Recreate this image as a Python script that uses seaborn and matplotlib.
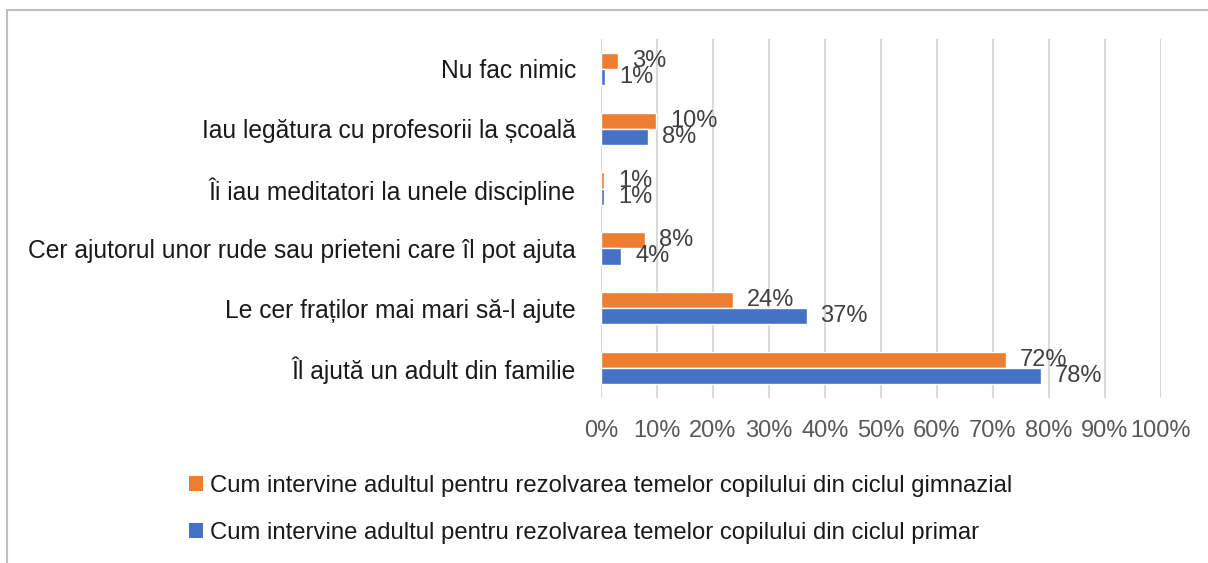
import matplotlib
matplotlib.use("Agg")
import matplotlib.pyplot as plt
import seaborn as sns
import pandas as pd
from matplotlib.patches import Rectangle, Patch

categories = [
    "Nu fac nimic",
    "Iau legătura cu profesorii la școală",
    "Îi iau meditatori la unele discipline",
    "Cer ajutorul unor rude sau prieteni care îl pot ajuta",
    "Le cer fraților mai mari să-l ajute",
    "Îl ajută un adult din familie",
]
series_names = [
    "Cum intervine adultul pentru rezolvarea temelor copilului din ciclul gimnazial",
    "Cum intervine adultul pentru rezolvarea temelor copilului din ciclul primar",
]
gimnazial = [3.0, 9.8, 0.6, 7.9, 23.6, 72.3]
primar = [0.8, 8.4, 0.6, 3.6, 36.7, 78.5]
xticks = [0, 10, 20, 30, 40, 50, 60, 70, 80, 90, 100]
xtick_labels = [f"{v}%" for v in xticks]

colors = ["#ED7D31", "#4472C4"]

df = pd.DataFrame({
    "cat": categories * 2,
    "val": gimnazial + primar,
    "serie": [series_names[0]] * len(categories) + [series_names[1]] * len(categories),
})

sns.set_theme(style="white")
plt.rcParams["font.family"] = ["Liberation Sans", "DejaVu Sans"]

FS = 17

fig = plt.figure(figsize=(12.08, 5.63), dpi=100)
ax = fig.add_axes([601 / 1208, 1 - 398 / 563, 560 / 1208, 359 / 563])

sns.barplot(data=df, y="cat", x="val", hue="serie", order=categories,
            hue_order=series_names, palette=colors, orient="h",
            width=0.54, gap=0, saturation=1, ax=ax, legend=False)

ax.set_xlim(0, 100)
ax.set_ylim(5.5, -0.5)
ax.set_xticks(xticks)
ax.set_xticklabels(xtick_labels, fontsize=FS, color="#595959")
ax.tick_params(axis="x", length=0, pad=16)
ax.tick_params(axis="y", length=0, pad=18, labelsize=17.7, labelcolor="#1a1a1a")
ax.set_xlabel("")
ax.set_ylabel("")
for s in ax.spines.values():
    s.set_visible(False)
ax.grid(axis="x", color="#d9d9d9", linewidth=1.5)
ax.set_axisbelow(True)

for cont in ax.containers:
    ax.bar_label(cont, fmt="%.0f%%", padding=10, fontsize=FS, color="#404040")

# legend
handles = [Patch(facecolor=c, edgecolor="none") for c in colors]
leg = fig.legend(handles, series_names, loc="upper left",
                 bbox_to_anchor=(189 / 1208, 1 - 475 / 563),
                 frameon=False, fontsize=17.2, handlelength=0.6,
                 handleheight=0.6, handletextpad=0.3, labelspacing=1.05,
                 borderaxespad=0, borderpad=0)
for t in leg.get_texts():
    t.set_color("#1a1a1a")

# outer border (chart area frame)
fig.add_artist(Rectangle((6.5 / 1208, -0.1), 1.2, 1 - 9.5 / 563 + 0.1,
                         transform=fig.transFigure, fill=False,
                         edgecolor="#bfbfbf", linewidth=1.5))

fig.savefig("out.png", dpi=100)
